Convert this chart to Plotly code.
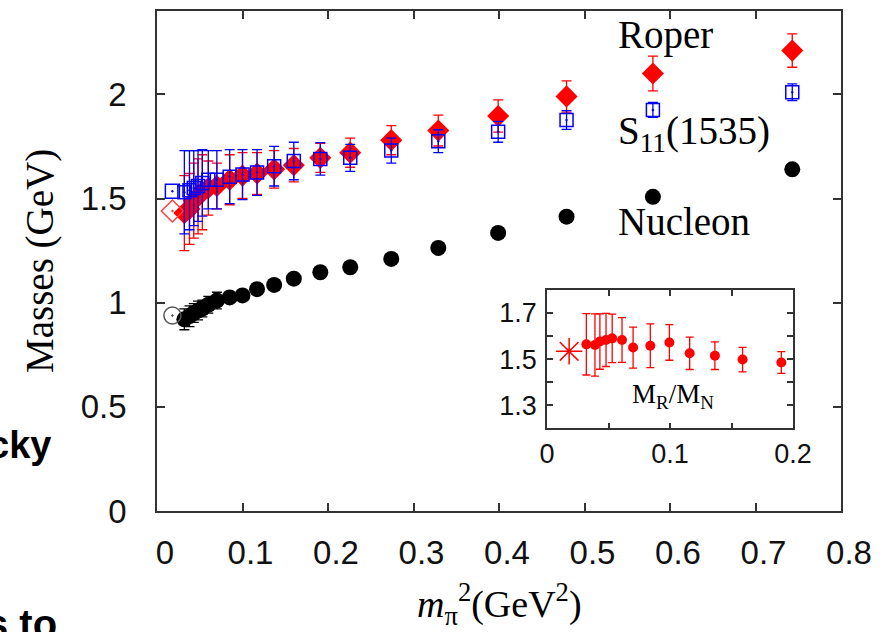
import plotly.graph_objects as go

# ---- data -----------------------------------------------------------------
# squared pion mass (GeV^2) of the lattice ensembles
mpi2 = [0.032, 0.038, 0.043, 0.048, 0.053, 0.060, 0.070, 0.085, 0.100, 0.117,
        0.137, 0.160, 0.191, 0.226, 0.274, 0.329, 0.399, 0.479, 0.580, 0.743]

nucleon = [0.920, 0.935, 0.950, 0.962, 0.972, 0.990, 1.010, 1.025, 1.035, 1.065,
           1.085, 1.115, 1.146, 1.170, 1.210, 1.263, 1.335, 1.413, 1.508, 1.640]
nucleon_err = [0.05, 0.05, 0.045, 0.045, 0.04, 0.04, 0.04, 0.02, 0.015, 0.015,
               0.01, 0.01, 0.01, 0.01, 0.01, 0.01, 0.01, 0.01, 0.01, 0.01]

roper = [1.43, 1.45, 1.49, 1.51, 1.53, 1.55, 1.56, 1.59, 1.61, 1.62,
         1.64, 1.66, 1.695, 1.72, 1.78, 1.826, 1.896, 1.99, 2.10, 2.21]
roper_err = [0.18, 0.17, 0.18, 0.18, 0.18, 0.13, 0.11, 0.12, 0.11, 0.10,
             0.09, 0.08, 0.07, 0.07, 0.07, 0.074, 0.077, 0.075, 0.083, 0.08]

s11 = [1.53, 1.54, 1.55, 1.56, 1.575, 1.59, 1.59, 1.605, 1.615, 1.625,
       1.655, 1.68, 1.69, 1.695, 1.73, 1.775, 1.82, 1.877, 1.925, 2.01]
s11_err = [0.20, 0.19, 0.18, 0.17, 0.16, 0.14, 0.14, 0.13, 0.12, 0.11,
           0.095, 0.09, 0.078, 0.065, 0.06, 0.055, 0.05, 0.045, 0.036, 0.04]

# experimental values at the physical pion mass
mpi2_phys = 0.018
nucleon_phys = 0.938
roper_phys = 1.44
s11_phys = 1.535

# Roper / nucleon mass ratio (inset)
ratio_x = [0.032, 0.039, 0.043, 0.048, 0.053, 0.061, 0.070, 0.084, 0.0995, 0.116,
           0.1365, 0.159, 0.1905]
ratio = [1.564, 1.561, 1.576, 1.583, 1.590, 1.583, 1.550, 1.558, 1.572, 1.525,
         1.515, 1.498, 1.485]
ratio_err = [0.133, 0.135, 0.12, 0.115, 0.105, 0.097, 0.089, 0.095, 0.077, 0.07,
             0.06, 0.053, 0.047]
ratio_phys = 1.534

main_xticks = [0, 0.1, 0.2, 0.3, 0.4, 0.5, 0.6, 0.7, 0.8]
main_yticks = [0, 0.5, 1, 1.5, 2]
inset_xticks = [0, 0.05, 0.1, 0.15, 0.2]
inset_xtext = ["0", "", "0.1", "", "0.2"]
inset_yticks = [1.3, 1.4, 1.5, 1.6, 1.7]
inset_ytext = ["1.3", "", "1.5", "", "1.7"]

# ---- geometry -------------------------------------------------------------
W, H = 887, 632
L, R, T, B = 157, 46, 9, 121
PW, PH = W - L - R, H - T - B


def xp(px):
    return (px - L) / PW


def yp(py):
    return (H - B - py) / PH


SANS = "Liberation Sans, Arial, sans-serif"
SERIF = "Liberation Serif, Times New Roman, serif"
RED, BLUE, AX = "#ff0000", "#0000ff", "#333333"

fig = go.Figure()

# nucleon
fig.add_trace(go.Scatter(
    x=mpi2, y=nucleon, mode="markers",
    error_y=dict(type="data", array=nucleon_err, color="black", thickness=1.3, width=5),
    marker=dict(symbol="circle", size=16, color="black"),
))
fig.add_trace(go.Scatter(
    x=[mpi2_phys], y=[nucleon_phys], mode="markers",
    marker=dict(symbol="circle-open-dot", size=17, color="#555555", line=dict(width=1.5)),
))

# Roper
fig.add_trace(go.Scatter(
    x=mpi2, y=roper, mode="markers",
    error_y=dict(type="data", array=roper_err, color=RED, thickness=1.3, width=5),
    marker=dict(symbol="diamond", size=17, color=RED),
))
fig.add_trace(go.Scatter(
    x=[mpi2_phys], y=[roper_phys], mode="markers",
    marker=dict(symbol="diamond-open-dot", size=17, color="#ff4040", line=dict(width=1.5)),
))

# S11(1535)
fig.add_trace(go.Scatter(
    x=mpi2, y=s11, mode="markers",
    error_y=dict(type="data", array=s11_err, color=BLUE, thickness=1.3, width=5),
    marker=dict(symbol="square-open-dot", size=13, color=BLUE, line=dict(width=1.5)),
))
fig.add_trace(go.Scatter(
    x=[mpi2_phys], y=[s11_phys], mode="markers",
    marker=dict(symbol="square-open-dot", size=14, color=BLUE, line=dict(width=1.5)),
))

# inset: mass ratio
fig.add_trace(go.Scatter(
    x=ratio_x, y=ratio, mode="markers", xaxis="x2", yaxis="y2",
    error_y=dict(type="data", array=ratio_err, color=RED, thickness=1.3, width=4),
    marker=dict(symbol="circle", size=10, color=RED),
))
fig.add_trace(go.Scatter(
    x=[mpi2_phys], y=[ratio_phys], mode="markers", xaxis="x2", yaxis="y2",
    marker=dict(symbol="asterisk-open", size=22, color=RED, line=dict(width=1.5, color=RED)),
))

axis_common = dict(
    showline=True, linecolor=AX, linewidth=1.5, mirror="ticks",
    ticks="inside", tickcolor=AX, tickwidth=1.5,
    showgrid=False, zeroline=False,
)

annotations = [
    dict(text="Roper", x=xp(616), y=yp(33), xanchor="left", yanchor="middle",
         font=dict(family=SERIF, size=39, color="black")),
    dict(text="S<sub>11</sub>(1535)", x=xp(616), y=yp(132), xanchor="left", yanchor="middle",
         font=dict(family=SERIF, size=39, color="black")),
    dict(text="Nucleon", x=xp(616), y=yp(220), xanchor="left", yanchor="middle",
         font=dict(family=SERIF, size=39, color="black")),
    dict(text="M<sub>R</sub>/M<sub>N</sub>", x=xp(630), y=yp(396), xanchor="left", yanchor="middle",
         font=dict(family=SERIF, size=27, color="black")),
    dict(text="Masses (GeV)", x=xp(40), y=yp(260), textangle=-90,
         xanchor="center", yanchor="middle",
         font=dict(family=SERIF, size=39, color="black")),
    dict(text="<i>m</i><sub>π</sub><sup>2</sup>(GeV<sup>2</sup>)", x=xp(499), y=yp(604),
         xanchor="center", yanchor="middle",
         font=dict(family=SERIF, size=38, color="black")),
    dict(text="<b>cky</b>", x=xp(53), y=yp(445), xanchor="right", yanchor="middle",
         font=dict(family=SANS, size=38, color="black")),
    dict(text="<b>s to</b>", x=xp(59), y=yp(600), xanchor="right", yanchor="top",
         font=dict(family=SANS, size=40, color="black")),
]
for a in annotations:
    a.update(xref="paper", yref="paper", showarrow=False)

fig.update_layout(
    width=W, height=H,
    margin=dict(l=L, r=R, t=T, b=B),
    paper_bgcolor="white", plot_bgcolor="white",
    showlegend=False,
    xaxis=dict(range=[0, 0.8], tickvals=main_xticks, ticklen=8,
               tickfont=dict(family=SANS, size=33, color="#111111"),
               ticklabelstandoff=12, ticklabelshift=8, **axis_common),
    yaxis=dict(range=[0, 2.4], tickvals=main_yticks, ticklen=8,
               tickfont=dict(family=SANS, size=33, color="#111111"),
               ticklabelstandoff=22, **axis_common),
    xaxis2=dict(domain=[xp(547), xp(793)], anchor="y2", range=[0, 0.2],
                tickvals=inset_xticks, ticktext=inset_xtext, ticklen=6,
                tickfont=dict(family=SANS, size=27, color="#111111"),
                ticklabelstandoff=1, **axis_common),
    yaxis2=dict(domain=[yp(428), yp(289)], anchor="x2", range=[1.2, 1.8],
                tickvals=inset_yticks, ticktext=inset_ytext, ticklen=6,
                tickfont=dict(family=SANS, size=27, color="#111111"),
                ticklabelstandoff=3, **axis_common),
    annotations=annotations,
)

fig.write_html("out.html")
